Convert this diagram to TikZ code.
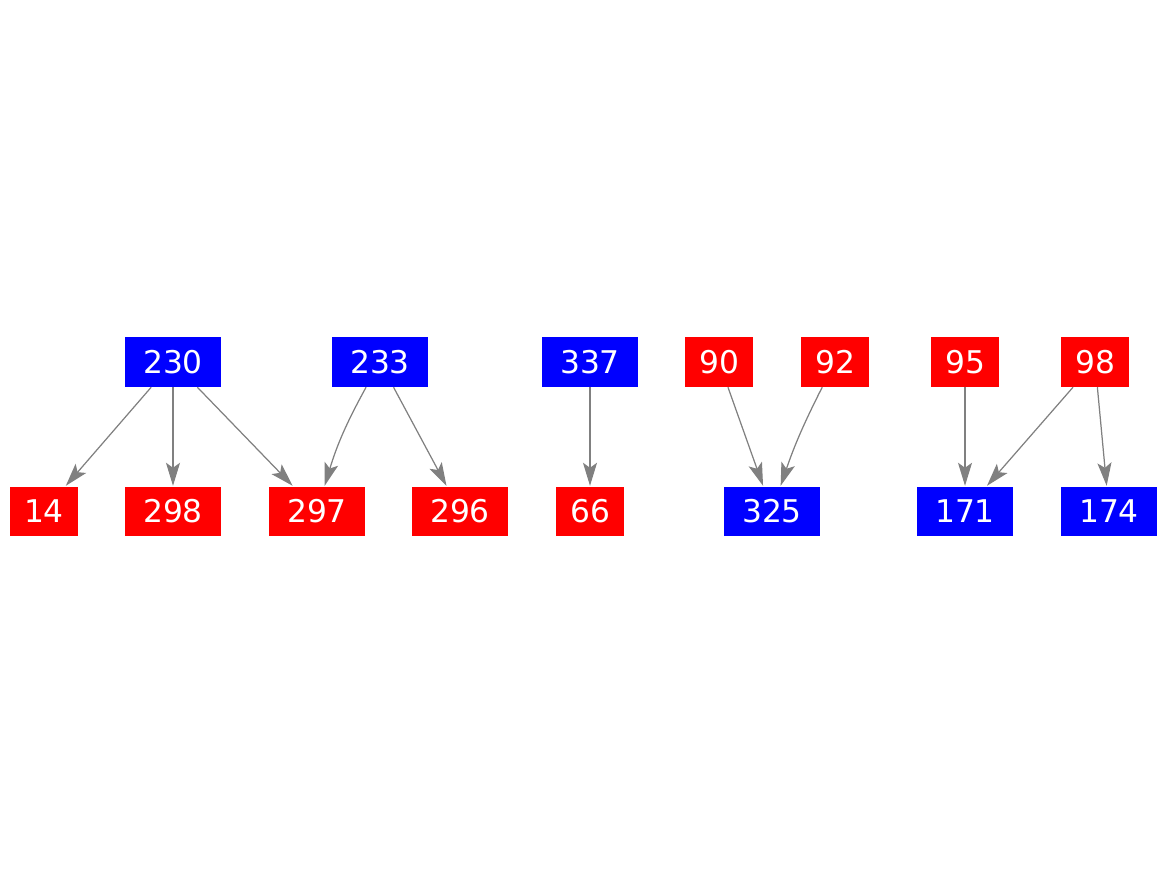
\documentclass[tikz,border=0pt]{standalone}
\usepackage{fontspec}
\setmainfont{DejaVu Sans}
\usepackage{xcolor}
\usepackage{tikz}
\usetikzlibrary{arrows.meta, positioning}
\definecolor{srcblue}{RGB}{0,0,255}
\definecolor{dstred}{RGB}{255,0,0}
\definecolor{edgegray}{RGB}{128,128,128}

\begin{document}
\begin{tikzpicture}[x=0.01cm, y=-0.01cm,
    box/.style={rectangle, inner sep=0pt, minimum height=0.49cm, minimum width=0.67cm,
        text=white, font=\fontsize{8.9}{10}\selectfont},
    wide/.style={minimum width=0.95cm},
    bluebox/.style={box, fill=srcblue},
    redbox/.style={box, fill=dstred},
    link/.style={draw=edgegray, line width=0.35pt,
        -{Stealth[length=0.23cm, width=0.14cm, inset=0.05cm, fill=edgegray]}}]
    \useasboundingbox (0,0) rectangle (1167,875);

    % top row
    \node[bluebox, wide] (n230) at (173,362) {230};
    \node[bluebox, wide] (n233) at (380,362) {233};
    \node[bluebox, wide] (n337) at (590,362) {337};
    \node[redbox] (n90) at (719,362) {90};
    \node[redbox] (n92) at (835,362) {92};
    \node[redbox] (n95) at (965,362) {95};
    \node[redbox] (n98) at (1095,362) {98};

    % bottom row
    \node[redbox] (n14) at (44,511) {14};
    \node[redbox, wide] (n298) at (173,511) {298};
    \node[redbox, wide] (n297) at (317,511) {297};
    \node[redbox, wide] (n296) at (460,511) {296};
    \node[redbox] (n66) at (590,511) {66};
    \node[bluebox, wide] (n325) at (772,511) {325};
    \node[bluebox, wide] (n171) at (965,511) {171};
    \node[bluebox, wide] (n174) at (1109,511) {174};

    % edges
    \draw[link] (n230) -- (n14);
    \draw[link] (n230) -- (n298);
    \draw[link] (n230) -- (n297);
    \draw[link] (n233) to[bend right=6] (n297);
    \draw[link] (n233) -- (n296);
    \draw[link] (n337) -- (n66);
    \draw[link] (n90) -- (n325);
    \draw[link] (n92) to[bend right=4] (n325);
    \draw[link] (n95) -- (n171);
    \draw[link] (n98) -- (n171);
    \draw[link] (n98) -- (n174);
\end{tikzpicture}
\end{document}
